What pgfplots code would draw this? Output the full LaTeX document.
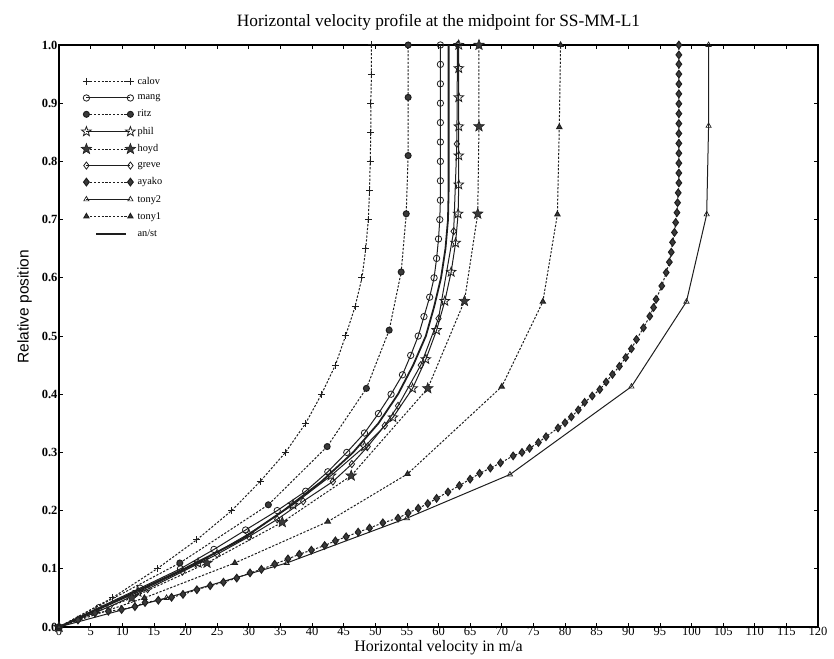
\documentclass[border=0pt]{standalone}
\usepackage{pgfplots}
\pgfplotsset{compat=1.18}
\usepackage{fontspec}
\setmainfont{Liberation Serif}
\newfontfamily\sansf{Liberation Sans}
\usetikzlibrary{plotmarks}
\definecolor{ink}{HTML}{1E1E1E}
\definecolor{fillk}{HTML}{3A3A3A}
\makeatletter
\def\pentpath{%
  \pgfpathmoveto{\pgfpointpolar{90}{\pgfplotmarksize}}%
  \pgfpathlineto{\pgfpointpolar{126}{0.42\pgfplotmarksize}}%
  \pgfpathlineto{\pgfpointpolar{162}{\pgfplotmarksize}}%
  \pgfpathlineto{\pgfpointpolar{198}{0.42\pgfplotmarksize}}%
  \pgfpathlineto{\pgfpointpolar{234}{\pgfplotmarksize}}%
  \pgfpathlineto{\pgfpointpolar{270}{0.42\pgfplotmarksize}}%
  \pgfpathlineto{\pgfpointpolar{306}{\pgfplotmarksize}}%
  \pgfpathlineto{\pgfpointpolar{342}{0.42\pgfplotmarksize}}%
  \pgfpathlineto{\pgfpointpolar{18}{\pgfplotmarksize}}%
  \pgfpathlineto{\pgfpointpolar{54}{0.42\pgfplotmarksize}}%
  \pgfpathclose}
\pgfdeclareplotmark{pent}{\pentpath\pgfusepathqstroke}
\pgfdeclareplotmark{pent*}{\pentpath\pgfusepathqfillstroke}
\makeatother
\pgfplotsset{
  mylegend/.style={legend image code/.code={\draw[mark repeat=1,mark phase=1,##1] plot coordinates {(0pt,0pt) (44pt,0pt)};}},
  anstlegend/.style={legend image code/.code={\path[draw=ink, line width=2pt, solid] (10pt,0pt) -- (40pt,0pt);}},
}
\begin{document}
\begin{tikzpicture}
\useasboundingbox (0pt,0pt) rectangle (834pt,658pt);
\begin{axis}[
  at={(59pt,31pt)}, anchor=south west,
  scale only axis, width=759pt, height=582pt,
  xmin=0, xmax=120, ymin=0, ymax=1,
  xtick={0,5,10,15,20,25,30,35,40,45,50,55,60,65,70,75,80,85,90,95,100,105,110,115,120},
  ytick={0,0.1,0.2,0.3,0.4,0.5,0.6,0.7,0.8,0.9,1.0},
  yticklabels={0.0,0.1,0.2,0.3,0.4,0.5,0.6,0.7,0.8,0.9,1.0},
  /pgf/number format/assume math mode=true,
  tick align=inside, major tick length=4pt,
  tick style={black, line width=0.6pt},
  axis line style={black, line width=1.6pt},
  xticklabel style={font=\fontsize{12.5}{13}\selectfont, yshift=3pt},
  yticklabel style={font=\fontsize{12.5}{13}\selectfont\bfseries, xshift=2pt},
  title={Horizontal velocity profile at the midpoint for SS-MM-L1},
  title style={font=\fontsize{17.3}{19}\selectfont, yshift=5pt},
  xlabel={Horizontal velocity in m/a},
  xlabel style={font=\fontsize{16}{18}\selectfont, at={(axis description cs:0.5,-0.017)}, anchor=north},
  ylabel={\sansf Relative position},
  ylabel style={font=\fontsize{15.5}{17}\selectfont, at={(axis description cs:-0.031,0.55)}, anchor=south},
  legend style={draw=none, fill=none, at={(0.025,0.952)}, anchor=north west,
    font=\fontsize{10.3}{11}\selectfont, row sep=4.8pt,
    /tikz/every even column/.append style={column sep=7pt}},
  legend cell align=left,
  mylegend,
  every axis plot/.append style={line width=1pt, color=ink},
  clip=false,
]
% calov
\addplot[dash pattern=on 2.2pt off 1.6pt, mark=+, mark size=3.5pt, mark options={solid, line width=1pt}] coordinates {
(0,0) (8.4,0.05) (15.5,0.1) (21.8,0.15) (27.3,0.2) (31.8,0.25) (35.8,0.3) (39.0,0.35) (41.5,0.4) (43.7,0.45) (45.3,0.5) (46.8,0.55) (47.9,0.6) (48.5,0.65) (48.9,0.7) (49.1,0.75) (49.2,0.8) (49.3,0.85) (49.3,0.9) (49.4,0.95) (49.4,1.0)};
\addlegendentry{calov}
% mang
\addplot[solid, mark=o, mark size=3.2pt, mark options={solid, line width=0.8pt}] coordinates {
(0,0) (6.3,0.0333) (12.8,0.0667) (19.2,0.1) (24.5,0.1333) (29.5,0.1667) (34.5,0.2) (39,0.2333) (42.5,0.2667) (45.5,0.3) (48.3,0.3333) (50.5,0.3667) (52.5,0.4) (54.3,0.4333) (55.6,0.4667) (56.8,0.5) (57.7,0.5333) (58.6,0.5667) (59.3,0.6) (59.7,0.6333) (60.0,0.6667) (60.2,0.7) (60.3,0.7333) (60.3,0.7667) (60.3,0.8) (60.3,0.8333) (60.3,0.8667) (60.3,0.9) (60.3,0.9333) (60.3,0.9667) (60.3,1.0)};
\addlegendentry{mang}
% ritz
\addplot[dash pattern=on 2.2pt off 1.6pt, mark=*, mark size=3pt, mark options={solid, fill=fillk}] coordinates {
(0,0) (19.1,0.11) (33.1,0.21) (42.4,0.31) (48.6,0.41) (52.2,0.51) (54.1,0.61) (54.9,0.71) (55.2,0.81) (55.2,0.91) (55.2,1.0)};
\addlegendentry{ritz}
% phil
\addplot[solid, mark=pent, mark size=5pt, mark options={solid, line width=0.8pt}] coordinates {
(0,0) (12.5,0.06) (22,0.11) (30,0.16) (37,0.21) (43,0.26) (48.3,0.31) (52.8,0.36) (55.9,0.41) (58.0,0.46) (59.7,0.51) (61.0,0.56) (62.0,0.61) (62.7,0.66) (63.1,0.71) (63.2,0.76) (63.2,0.81) (63.2,0.86) (63.2,0.91) (63.2,0.96) (63.2,1.0)};
\addlegendentry{phil}
% hoyd
\addplot[dash pattern=on 2.2pt off 1.6pt, mark=pent*, mark size=5.5pt, mark options={solid, fill=fillk, line width=0.6pt}] coordinates {
(0,0) (11.5,0.05) (23.4,0.11) (35.3,0.18) (46.2,0.26) (58.3,0.41) (64.1,0.56) (66.2,0.71) (66.4,0.86) (66.4,1.0)};
\addlegendentry{hoyd}
% greve
\addplot[solid, mark=diamond, mark size=3.6pt, mark options={solid, line width=0.8pt}] coordinates {
(0,0) (8,0.035) (14,0.065) (19.5,0.095) (25,0.125) (30,0.155) (34.5,0.185) (38.6,0.216) (43.3,0.25) (46.3,0.28) (48.8,0.31) (51.5,0.346) (53.6,0.38) (57.2,0.45) (60.0,0.53) (62.4,0.68) (62.9,0.83) (63.0,1.0)};
\addlegendentry{greve}
% ayako
\addplot[dash pattern=on 2.2pt off 1.6pt, mark=diamond*, mark size=3.8pt, mark options={solid, fill=fillk}] coordinates {
(0,0) (3,0.012) (5.7,0.024) (7.8,0.027) (9.9,0.03) (12,0.035) (13.6,0.042) (15.7,0.046) (17.8,0.051) (19.6,0.056) (21.8,0.064) (23.9,0.071) (26,0.077) (28.1,0.084) (30.2,0.093) (32,0.099) (34.1,0.108) (36.2,0.117) (38,0.125) (39.9,0.132) (42,0.14) (43.7,0.148) (45.4,0.155) (47.3,0.163) (49.1,0.17) (51.2,0.179) (53.6,0.187) (55.2,0.196) (56.8,0.204) (58.3,0.212) (59.7,0.221) (61.5,0.232) (63.3,0.243) (65,0.254) (66.5,0.264) (68.2,0.273) (69.8,0.282) (71.8,0.294) (73.2,0.300) (74.4,0.307) (75.8,0.317) (77,0.327) (78.9,0.342) (80,0.351) (81,0.361) (82.1,0.373) (83.1,0.386) (84.3,0.397) (85.5,0.408) (86.5,0.421) (87.5,0.434) (88.6,0.448) (89.6,0.463) (90.5,0.478) (91.3,0.494) (92.4,0.514) (93.4,0.534) (94.0,0.549) (94.4,0.563) (95.3,0.586) (96,0.609) (96.5,0.627) (96.8,0.644) (97.0,0.661) (97.3,0.678) (97.5,0.695) (97.7,0.712) (97.8,0.729) (97.9,0.746) (98.0,0.763) (98.0,0.780) (98.0,0.797) (98.0,0.814) (98.0,0.831) (98.0,0.848) (98.0,0.865) (98.0,0.882) (98.0,0.899) (98.0,0.916) (98.0,0.933) (98.0,0.950) (98.0,0.967) (98.0,0.983) (98.0,1.0)};
\addlegendentry{ayako}
% tony2
\addplot[solid, mark=triangle, mark size=3pt, mark options={solid, line width=0.7pt}] coordinates {
(0,0) (17,0.05) (36,0.11) (55,0.187) (71.3,0.262) (90.5,0.413) (99.2,0.559) (102.4,0.709) (102.7,0.861) (102.7,1.0)};
\addlegendentry{tony2}
% tony1
\addplot[dash pattern=on 2.2pt off 1.6pt, mark=triangle*, mark size=3pt, mark options={solid, fill=fillk}] coordinates {
(0,0) (13.5,0.05) (27.8,0.11) (42.5,0.181) (55.1,0.263) (70.0,0.413) (76.5,0.559) (78.8,0.709) (79.1,0.859) (79.3,1.0)};
\addlegendentry{tony1}
% an/st
\addplot[solid, line width=1.8pt, no marks, anstlegend] coordinates {
(0,0) (10,0.05) (19.8,0.1) (28.8,0.15) (35.5,0.2) (41.5,0.25) (46.5,0.3) (50.5,0.35) (53.6,0.4) (56,0.45) (58,0.5) (59.3,0.55) (60.4,0.6) (61.1,0.65) (61.5,0.7) (61.6,0.75) (61.6,0.8) (61.6,0.9) (61.6,1.0)};
\addlegendentry{an/st}
\end{axis}
\end{tikzpicture}
\end{document}
